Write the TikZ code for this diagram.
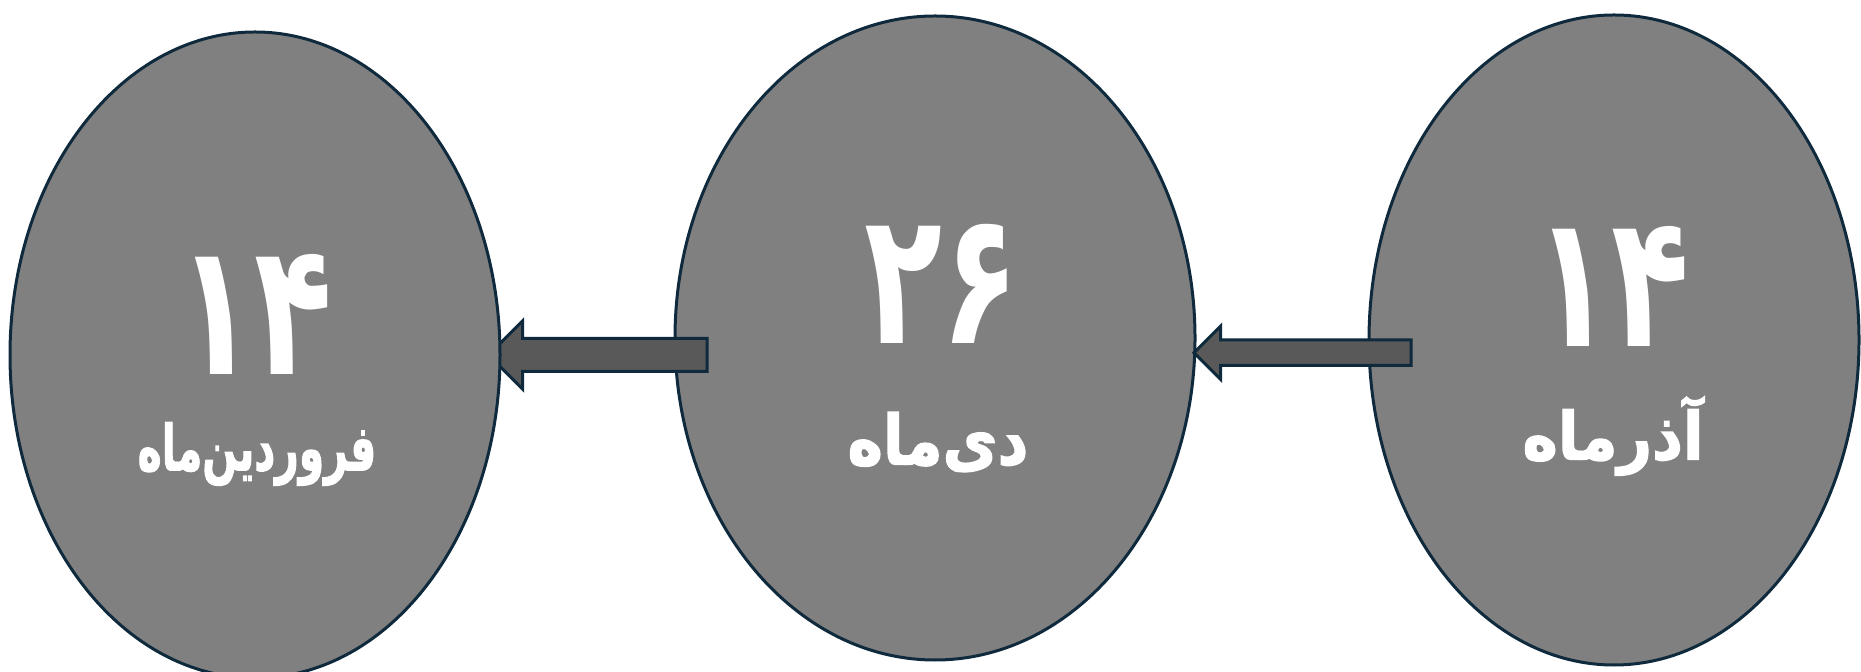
\documentclass[tikz,border=0pt]{standalone}
\usepackage{fontspec}
\usepackage{graphicx}
\newfontfamily\fa[Script=Arabic]{DejaVu Sans}
\newfontfamily\falbl[Script=Arabic,BoldFeatures={FakeBold=2}]{DejaVu Sans}
\TeXXeTstate=1
\usetikzlibrary{calc,shapes.geometric}
\pgfdeclarelayer{back}\pgfdeclarelayer{mid}
\pgfsetlayers{back,mid,main}
\definecolor{edgeblue}{HTML}{0F2A3C}
\definecolor{disc}{HTML}{808080}
\definecolor{shaft}{HTML}{595959}
\tikzset{
  month/.style={ellipse, draw=edgeblue, fill=disc, line width=1.5pt, inner sep=0pt},
  blockarr/.style={draw=edgeblue, fill=shaft, line width=1.5pt, line join=miter},
  num/.style={text=white, font=\fa\bfseries\fontsize{84}{84}\selectfont, inner sep=0pt},
  lbl/.style={text=white, font=\falbl\bfseries\fontsize{30}{30}\selectfont, inner sep=0pt},
}
\newcommand\numtext[1]{\scalebox{0.76}[1.1]{#1}}
\newcommand\blockarrow[4]{%
  \draw[blockarr] (#1) -- ($(#1)+(#3,-#3)$) -- ($(#1)+(#3,-#4)$)
    -- ($(#1 -| #2)+(0,-#4)$) -- ($(#1 -| #2)+(0,#4)$)
    -- ($(#1)+(#3,#4)$) -- ($(#1)+(#3,#3)$) -- cycle;}
\begin{document}
\begin{tikzpicture}[x=0.5pt,y=-0.5pt]
\useasboundingbox (0,0) rectangle (1861,672);
\begin{pgfonlayer}{back}
  \node[month, minimum width=260pt, minimum height=322pt] (M) at (935,338) {};
  \node[month, minimum width=245pt, minimum height=325pt] (R) at (1614,340) {};
\end{pgfonlayer}
\node[month, minimum width=245pt, minimum height=323pt] (L) at (255,355) {};
\begin{pgfonlayer}{mid}
  \coordinate (a1tip) at ($(L.east)+(-13,0)$);
  \coordinate (a1end) at ($(M.west)+(33.5,0)$);
  \blockarrow{a1tip}{a1end}{34}{16.5}
  \coordinate (a2tip) at ($(M.east)+(-2.5,14.7)$);
  \coordinate (a2end) at ($(R.west)+(43.5,0)$);
  \blockarrow{a2tip}{a2end}{26.7}{12.7}
\end{pgfonlayer}
\node[num] (Ln) at ($(L.center)+(0,-41)$) {\numtext{۱۴}};
\node[lbl] (Ll) at ($(L.center)+(2,99)$) {\scalebox{0.68}[1.05]{\beginR فروردین‌ماه\endR}};
\node[num] (Mn) at ($(M.center)+(7,-54)$) {\numtext{۲۶}};
\node[lbl] (Ml) at ($(M.center)+(3,104)$) {\scalebox{1}[1.15]{\beginR دی‌ماه\endR}};
\node[num] (Rn) at ($(R.center)+(-2,-54)$) {\numtext{۱۴}};
\node[lbl] (Rl) at ($(R.center)+(-1,96)$) {\scalebox{1}[1.1]{\beginR آذرماه\endR}};
\end{tikzpicture}
\end{document}
